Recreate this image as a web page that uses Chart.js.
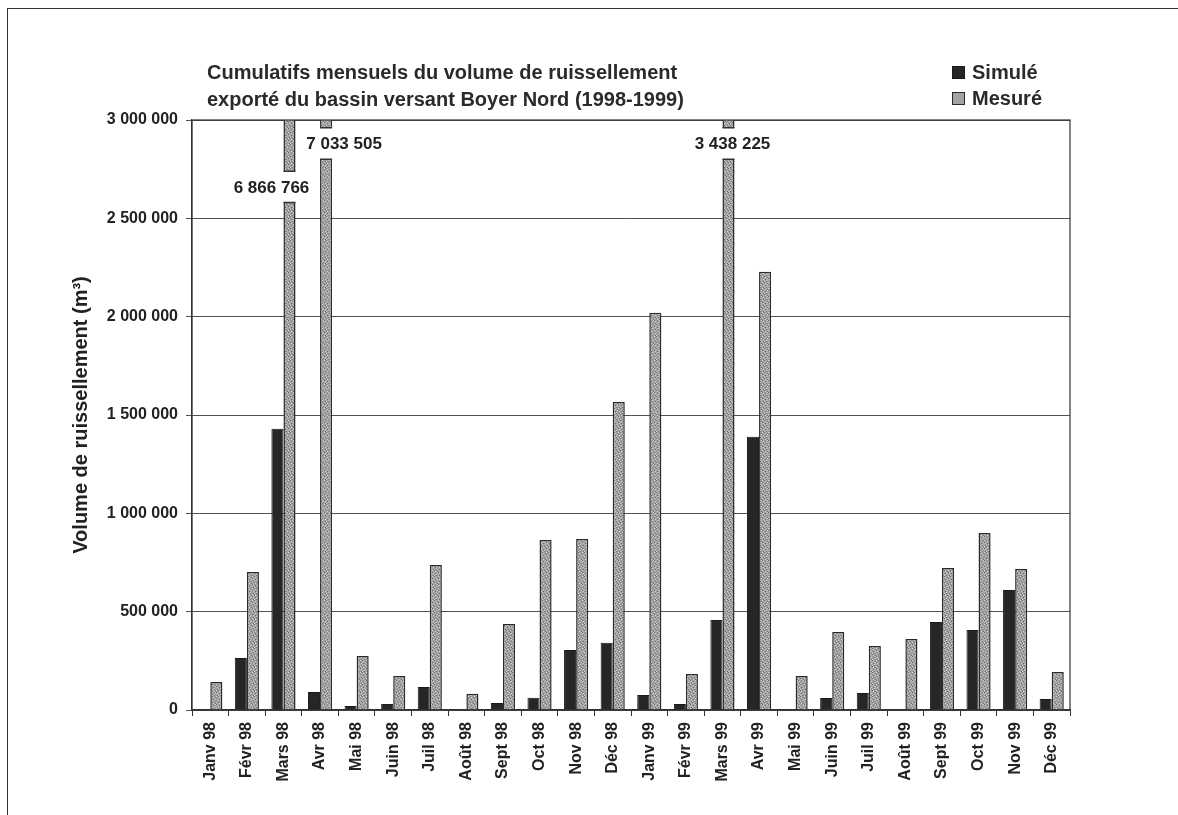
<!DOCTYPE html>
<html lang="fr">
<head>
    <meta charset="UTF-8">
    <title>Cumulatifs mensuels - Boyer Nord</title>
    <script src="https://cdn.jsdelivr.net/npm/chart.js"></script>
    <style>
        html, body {
            margin: 0;
            padding: 0;
            background: #ffffff;
        }

        body {
            width: 1178px;
            height: 815px;
            position: relative;
            overflow: hidden;
            font-family: 'Liberation Sans', Arial, sans-serif;
            color: #222;
        }

        .frame {
            position: absolute;
            left: 7px;
            top: 8px;
            width: 1180px;
            height: 820px;
            border-top: 1.5px solid #333;
            border-left: 1.5px solid #333;
        }

        .chart-box {
            position: absolute;
            left: 0;
            top: 0;
            width: 1178px;
            height: 815px;
        }

        .title {
            position: absolute;
            left: 207px;
            top: 59px;
            font-size: 20px;
            font-weight: bold;
            line-height: 27px;
            color: #2a2a2a;
        }

        .legend {
            position: absolute;
            left: 952px;
            top: 59px;
            font-size: 20px;
            font-weight: bold;
            line-height: 26px;
            color: #2a2a2a;
        }

        .legend .item {
            display: flex;
            align-items: center;
        }

        .legend .swatch {
            width: 13px;
            height: 13px;
            margin-right: 7px;
            box-sizing: border-box;
        }
    </style>
</head>
<body>
    <div class="frame"></div>
    <div class="chart-box">
        <canvas id="chart"></canvas>
    </div>
    <div class="title">
        Cumulatifs mensuels du volume de ruissellement<br>
        exporté du bassin versant Boyer Nord (1998-1999)
    </div>
    <div class="legend" id="legend"></div>

    <script>
        // Months (x categories)
        const months = [
            'Janv 98', 'Févr 98', 'Mars 98', 'Avr 98', 'Mai 98', 'Juin 98',
            'Juil 98', 'Août 98', 'Sept 98', 'Oct 98', 'Nov 98', 'Déc 98',
            'Janv 99', 'Févr 99', 'Mars 99', 'Avr 99', 'Mai 99', 'Juin 99',
            'Juil 99', 'Août 99', 'Sept 99', 'Oct 99', 'Nov 99', 'Déc 99'
        ];

        // Volumes (m3)
        const simule = [
            0, 265000, 1430000, 92000, 20000, 30000,
            117000, 0, 36000, 62000, 305000, 342000,
            76000, 30000, 458000, 1390000, 0, 61000,
            86000, 5000, 447000, 407000, 610000, 56000
        ];
        const mesure = [
            143000, 702000, 6866766, 7033505, 275000, 173000,
            737000, 82000, 437000, 864000, 870000, 1566000,
            2020000, 183000, 3438225, 2228000, 173000, 397000,
            325000, 361000, 722000, 900000, 717000, 193000
        ];

        // Y axis ticks
        const yTicks = [0, 500000, 1000000, 1500000, 2000000, 2500000, 3000000];
        const yMax = 3000000;

        const fmt = v => Math.round(v).toString().replace(/\B(?=(\d{3})+(?!\d))/g, ' ');

        // broken (off-scale) bars: where the gap is cut out and where the label goes
        const breaks = [
            { index: 2, gapTop: 2740000, gapBottom: 2580000, dx: -18 },
            { index: 3, gapTop: 2960000, gapBottom: 2800000, dx: 18 },
            { index: 14, gapTop: 2960000, gapBottom: 2800000, dx: 4 }
        ];

        // speckled grey fill, like the printed hatch
        function speckle() {
            const c = document.createElement('canvas');
            c.width = 6; c.height = 6;
            const g = c.getContext('2d');
            g.fillStyle = '#a2a2a2';
            g.fillRect(0, 0, 6, 6);
            g.fillStyle = '#cfcfcf';
            [[0, 0], [3, 1], [1, 3], [4, 4], [5, 2], [2, 5]].forEach(p => g.fillRect(p[0], p[1], 1, 1));
            g.fillStyle = '#6e6e6e';
            [[2, 0], [5, 1], [0, 2], [3, 3], [1, 5], [4, 5]].forEach(p => g.fillRect(p[0], p[1], 1, 1));
            return g.createPattern(c, 'repeat');
        }
        const mesureFill = speckle();

        const frameBox = {
            id: 'frameBox',
            afterDatasetsDraw(chart) {
                const { ctx, chartArea, scales } = chart;
                const meta = chart.getDatasetMeta(1);
                ctx.save();
                breaks.forEach(b => {
                    const bar = meta.data[b.index];
                    const yTop = scales.y.getPixelForValue(b.gapTop);
                    const yBot = scales.y.getPixelForValue(b.gapBottom);
                    const half = bar.width / 2 + 2;
                    ctx.fillStyle = '#ffffff';
                    ctx.fillRect(bar.x - half, yTop, half * 2, yBot - yTop);
                    ctx.strokeStyle = '#333';
                    ctx.lineWidth = 1.5;
                    ctx.beginPath();
                    ctx.moveTo(bar.x - bar.width / 2, yTop);
                    ctx.lineTo(bar.x + bar.width / 2, yTop);
                    ctx.moveTo(bar.x - bar.width / 2, yBot);
                    ctx.lineTo(bar.x + bar.width / 2, yBot);
                    ctx.stroke();
                    ctx.fillStyle = '#222';
                    ctx.font = 'bold 17px "Liberation Sans", Arial, sans-serif';
                    ctx.textAlign = 'center';
                    ctx.textBaseline = 'middle';
                    ctx.fillText(fmt(mesure[b.index]), bar.x + b.dx, (yTop + yBot) / 2 + 1);
                });
                // plot box
                ctx.strokeStyle = '#333';
                ctx.lineWidth = 1.2;
                ctx.strokeRect(chartArea.left, chartArea.top, chartArea.right - chartArea.left, chartArea.bottom - chartArea.top);
                ctx.restore();
            }
        };

        const ctx = document.getElementById('chart').getContext('2d');
        const chart = new Chart(ctx, {
            type: 'bar',
            data: {
                labels: months,
                datasets: [
                    {
                        label: 'Simulé',
                        data: simule,
                        backgroundColor: '#262626',
                        borderColor: '#1a1a1a',
                        borderWidth: 1,
                        categoryPercentage: 0.66,
                        barPercentage: 1.0
                    },
                    {
                        label: 'Mesuré',
                        data: mesure,
                        backgroundColor: mesureFill,
                        borderColor: '#2b2b2b',
                        borderWidth: 1.5,
                        categoryPercentage: 0.66,
                        barPercentage: 1.0
                    }
                ]
            },
            options: {
                responsive: true,
                maintainAspectRatio: false,
                animation: false,
                layout: {
                    padding: { top: 120, left: 64, right: 108, bottom: 26 }
                },
                plugins: {
                    legend: { display: false },
                    title: { display: false },
                    tooltip: { enabled: false }
                },
                scales: {
                    x: {
                        offset: true,
                        grid: {
                            offset: true,
                            drawOnChartArea: false,
                            drawTicks: true,
                            tickLength: 6,
                            color: '#333'
                        },
                        border: { color: '#333', width: 1.2 },
                        ticks: {
                            minRotation: 90,
                            maxRotation: 90,
                            autoSkip: false,
                            padding: 6,
                            color: '#222',
                            font: { family: '"Liberation Sans", Arial, sans-serif', size: 16, weight: 'bold' }
                        },
                        afterFit: s => { s.height = 79; }
                    },
                    y: {
                        min: 0,
                        max: yMax,
                        afterBuildTicks: s => { s.ticks = yTicks.map(v => ({ value: v })); },
                        grid: {
                            color: '#4a5656',
                            lineWidth: 1,
                            tickLength: 6
                        },
                        border: { color: '#333', width: 1.2 },
                        ticks: {
                            padding: 8,
                            color: '#222',
                            font: { family: '"Liberation Sans", Arial, sans-serif', size: 16, weight: 'bold' },
                            callback: v => fmt(v)
                        },
                        title: {
                            display: true,
                            text: 'Volume de ruissellement (m³)',
                            color: '#222',
                            padding: { top: 5, bottom: 0 },
                            font: { family: '"Liberation Sans", Arial, sans-serif', size: 20, weight: 'bold' }
                        },
                        afterFit: s => { s.width = 128; }
                    }
                }
            },
            plugins: [frameBox]
        });

        // legend in HTML, built from the datasets
        const legendEl = document.getElementById('legend');
        chart.data.datasets.forEach(ds => {
            const item = document.createElement('div');
            item.className = 'item';
            const sw = document.createElement('span');
            sw.className = 'swatch';
            sw.style.background = ds.label === 'Mesuré' ? '#a2a2a2' : ds.backgroundColor;
            sw.style.border = '1.5px solid ' + ds.borderColor;
            const txt = document.createElement('span');
            txt.textContent = ds.label;
            item.appendChild(sw);
            item.appendChild(txt);
            legendEl.appendChild(item);
        });
    </script>
</body>
</html>
